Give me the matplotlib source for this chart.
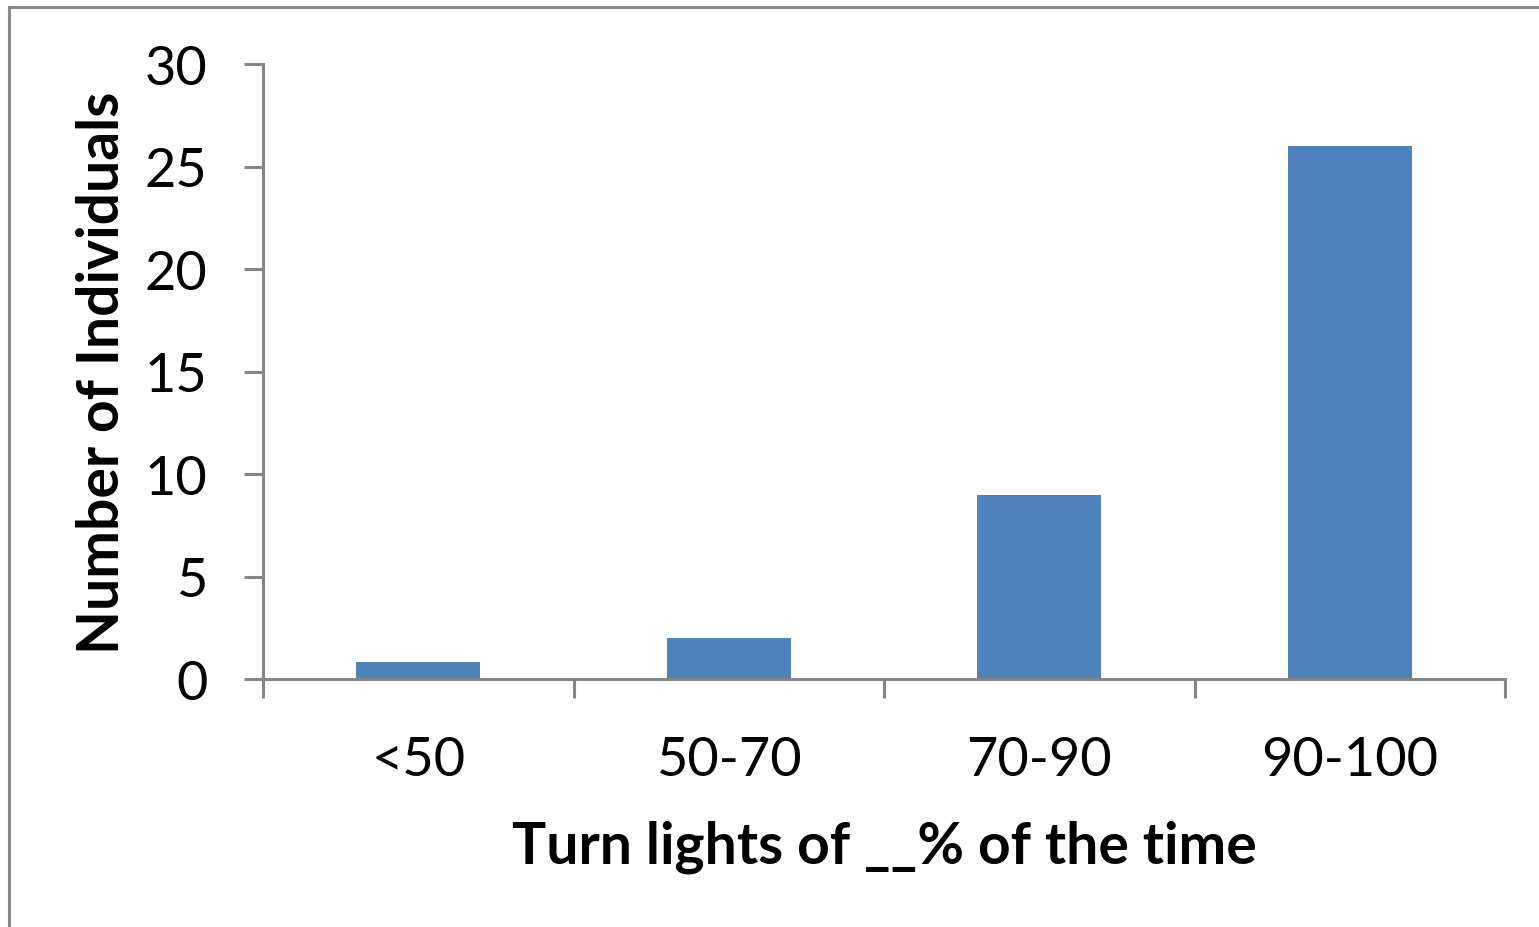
import matplotlib
matplotlib.use("Agg")
import matplotlib.pyplot as plt
from matplotlib.lines import Line2D
import numpy as np

categories = ["<50", "50-70", "70-90", "90-100"]
counts = [0.85, 2, 9, 26]
y_ticks = [0, 5, 10, 15, 20, 25, 30]

bar_color = "#4F81BD"
grey = "#868686"

plt.rcParams['font.family'] = ['Lato', 'DejaVu Sans']

fig = plt.figure(figsize=(15.39, 9.28), dpi=100)
ax = fig.add_axes([263 / 1539, 1 - 680 / 928, (1505 - 263) / 1539, (680 - 65) / 928])

x = np.arange(len(categories))
ax.bar(x, counts, width=0.4, color=bar_color, zorder=2)

ax.set_xlim(-0.5, len(categories) - 0.5)
ax.set_ylim(0, 30)

ax.set_yticks(y_ticks)
ax.set_yticklabels([str(t) for t in y_ticks], fontsize=39)
ax.set_xticks(x)
ax.set_xticklabels(categories, fontsize=39)
ax.set_xticks(np.arange(-0.5, len(categories), 1.0), minor=True)

ax.tick_params(axis='x', which='major', length=0, pad=40, colors='black')
ax.tick_params(axis='x', which='minor', length=14, width=2.2, color=grey, direction='out')
ax.tick_params(axis='y', length=14, width=2.2, color=grey, pad=26, labelcolor='black')

for s in ['top', 'right']:
    ax.spines[s].set_visible(False)
for s in ['left', 'bottom']:
    ax.spines[s].set_color(grey)
    ax.spines[s].set_linewidth(2.2)

ax.set_xlabel("Turn lights of __% of the time", fontsize=41, fontweight='bold', labelpad=26)
ax.set_ylabel("Number of Individuals", fontsize=41, fontweight='bold', labelpad=11)

# outer chart border (only left and top visible in the crop)
fig.add_artist(Line2D([9 / 1539, 9 / 1539], [0, 1 - 8 / 928], transform=fig.transFigure,
                      color="#898989", linewidth=2.2))
fig.add_artist(Line2D([9 / 1539, 1], [1 - 8 / 928, 1 - 8 / 928], transform=fig.transFigure,
                      color="#898989", linewidth=2.2))

fig.savefig("out.png", dpi=100)
